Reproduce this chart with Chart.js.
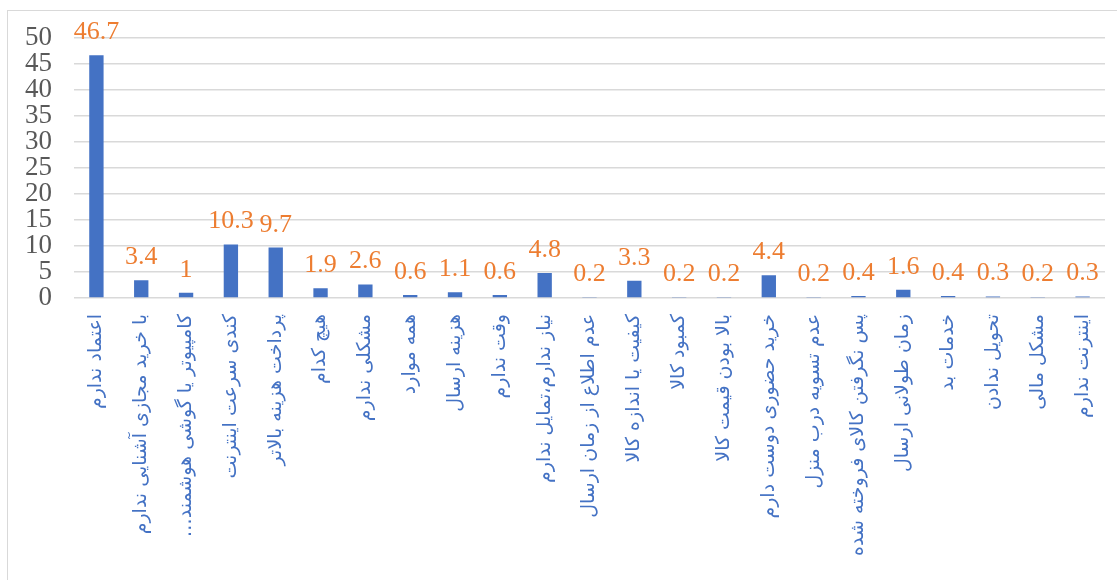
<!DOCTYPE html>
<html>
<head>
<meta charset="utf-8">
<script src="https://cdn.jsdelivr.net/npm/chart.js@4/dist/chart.umd.min.js"></script>
<style>
  html, body { margin: 0; padding: 0; background: #ffffff; overflow: hidden; }
  #wrap { position: relative; width: 1117px; height: 580px; }
  #frame { position: absolute; left: 7px; top: 10px; width: 1200px; height: 700px;
           border: 1.5px solid #d9d9d9; box-sizing: border-box; }
  canvas { position: absolute; left: 0; top: 0; }
</style>
</head>
<body>
<div id="wrap">
  <div id="frame"></div>
  <canvas id="c" width="1117" height="580"></canvas>
</div>
<script>
// Reasons for not shopping online (percent of respondents)
const categories = [
  'اعتماد ندارم',
  'با خرید مجازی آشنایی ندارم',
  'کامپیوتر یا گوشی هوشمند…\u200F',
  'کندی سرعت اینترنت',
  'پرداخت هزینه بالاتر',
  'هیچ کدام',
  'مشکلی ندارم',
  'همه موارد',
  'هزینه ارسال',
  'وقت ندارم',
  'نیاز ندارم،تمایل ندارم',
  'عدم اطلاع از زمان ارسال',
  'کیفیت یا اندازه کالا',
  'کمبود کالا',
  'بالا بودن قیمت کالا',
  'خرید حضوری دوست دارم',
  'عدم تسویه درب منزل',
  'پس نگرفتن کالای فروخته شده',
  'زمان طولانی ارسال',
  'خدمات بد',
  'تحویل ندادن',
  'مشکل مالی',
  'اینترنت ندارم'
];
const percentages = [46.7, 3.4, 1, 10.3, 9.7, 1.9, 2.6, 0.6, 1.1, 0.6, 4.8, 0.2, 3.3, 0.2, 0.2, 4.4, 0.2, 0.4, 1.6, 0.4, 0.3, 0.2, 0.3];
const yTicks = [0, 5, 10, 15, 20, 25, 30, 35, 40, 45, 50];

// Draws each bar's value just above it
const valueLabels = {
  id: 'valueLabels',
  afterDatasetsDraw(chart) {
    const ctx = chart.ctx;
    const meta = chart.getDatasetMeta(0);
    const values = chart.data.datasets[0].data;
    ctx.save();
    ctx.font = '26px "Liberation Serif", serif';
    ctx.fillStyle = '#ED7D31';
    ctx.textAlign = 'center';
    ctx.textBaseline = 'alphabetic';
    meta.data.forEach((bar, i) => {
      ctx.fillText(String(values[i]), bar.x, bar.y - 16);
    });
    ctx.restore();
  }
};

new Chart(document.getElementById('c'), {
  type: 'bar',
  data: {
    labels: categories,
    datasets: [{
      data: percentages,
      backgroundColor: '#4472C4',
      borderWidth: 0,
      categoryPercentage: 1,
      barPercentage: 0.32
    }]
  },
  options: {
    responsive: false,
    animation: false,
    events: [],
    layout: { padding: { left: 0, right: 12, top: 38, bottom: 0 } },
    plugins: { legend: { display: false }, tooltip: { enabled: false } },
    scales: {
      x: {
        grid: { display: false },
        border: { display: false },
        ticks: {
          autoSkip: false,
          maxRotation: 90,
          minRotation: 90,
          padding: 8,
          color: '#4472C4',
          font: { family: '"DejaVu Sans", sans-serif', size: 19 }
        },
        afterFit(scale) { scale.height = 282; }
      },
      y: {
        min: 0,
        max: 50,
        afterBuildTicks(scale) { scale.ticks = yTicks.map(v => ({ value: v })); },
        grid: { color: '#d9d9d9', lineWidth: 1.5, drawTicks: false },
        border: { display: false },
        ticks: {
          autoSkip: false,
          stepSize: 5,
          padding: 22,
          color: '#595959',
          font: { family: '"Liberation Serif", serif', size: 27 }
        },
        afterFit(scale) { scale.width = 74; }
      }
    }
  },
  plugins: [valueLabels]
});
</script>
</body>
</html>
